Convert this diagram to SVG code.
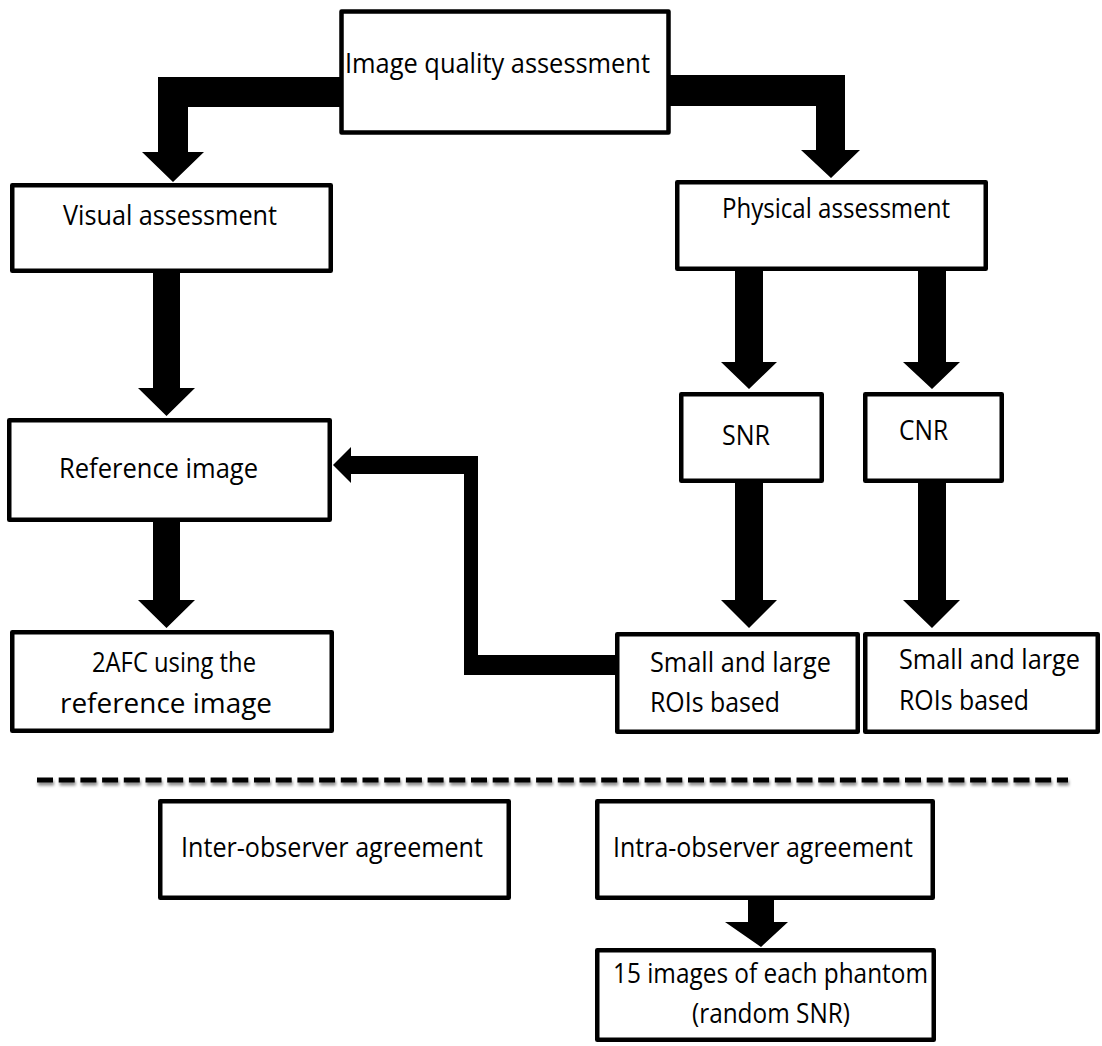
<svg xmlns="http://www.w3.org/2000/svg" width="1102" height="1046" viewBox="0 0 1102 1046">
  <defs>
    <style>
      .box { fill: #ffffff; stroke: #000000; stroke-width: 4.5; stroke-linejoin: round; }
      .lbl { font-family: "Open Sans", "Liberation Sans", sans-serif; font-size: 28px; fill: #000000; }
      .arrow { fill: #000000; stroke: none; }
      .sep { fill: none; stroke: #000000; stroke-width: 5; stroke-dasharray: 16 5.7; }
    </style>
    <filter id="shadow" filterUnits="userSpaceOnUse" x="20" y="760" width="1070" height="40">
      <feDropShadow dx="1" dy="3" stdDeviation="1.5" flood-color="#000000" flood-opacity="0.45"/>
    </filter>
  </defs>
  <rect width="1102" height="1046" fill="#ffffff"/>

  <!-- connectors: block arrows -->
  <g id="connectors">
    <path class="arrow" d="M340 77 H158 V152 H142 L173 182 L204 152 H188 V107 H340 Z"/>
    <path class="arrow" d="M670 75 H845 V150 H860 L831 178 L801 150 H816 V106 H670 Z"/>
    <path class="arrow" d="M153 273 H180 V388 H195 L166.5 416 L138 388 H153 Z"/>
    <path class="arrow" d="M153 522 H180 V600 H195 L166.5 628 L138 600 H153 Z"/>
    <path class="arrow" d="M735 271 H763 V362 H777 L749 389 L721 362 H735 Z"/>
    <path class="arrow" d="M918 271 H946 V362 H960 L932 389 L903 362 H918 Z"/>
    <path class="arrow" d="M735 483 H763 V600 H777 L749 628 L721 600 H735 Z"/>
    <path class="arrow" d="M918 483 H946 V600 H960 L932 628 L903 600 H918 Z"/>
    <path class="arrow" d="M351 456 H478 V655 H615 V675 H464 V474 H351 V483 L333 465 L351 447 Z"/>
    <path class="arrow" d="M748 900 H774 V922 H788 L761 947 L725 922 H748 Z"/>
  </g>

  <!-- separator between the two sections -->
  <path class="sep" d="M37 780 H1068" filter="url(#shadow)"/>

  <g id="image-quality">
    <rect class="box" x="341.5" y="11.5" width="327" height="121"/>
    <text class="lbl" x="345" y="73" textLength="305" lengthAdjust="spacingAndGlyphs">Image quality assessment</text>
  </g>
  <g id="visual">
    <rect class="box" x="12.25" y="185.25" width="318.5" height="85.5"/>
    <text class="lbl" x="63" y="225" textLength="214" lengthAdjust="spacingAndGlyphs">Visual assessment</text>
  </g>
  <g id="physical">
    <rect class="box" x="677.25" y="182.25" width="308.5" height="86.5"/>
    <text class="lbl" x="722" y="218" textLength="228" lengthAdjust="spacingAndGlyphs">Physical assessment</text>
  </g>
  <g id="reference">
    <rect class="box" x="9.25" y="420.25" width="320.5" height="99.5"/>
    <text class="lbl" x="59" y="478" textLength="199" lengthAdjust="spacingAndGlyphs">Reference image</text>
  </g>
  <g id="snr">
    <rect class="box" x="681.25" y="394.25" width="140.5" height="86.5"/>
    <text class="lbl" x="722" y="445" textLength="48" lengthAdjust="spacingAndGlyphs">SNR</text>
  </g>
  <g id="cnr">
    <rect class="box" x="865.25" y="394.25" width="136.5" height="86.5"/>
    <text class="lbl" x="899" y="440" textLength="49" lengthAdjust="spacingAndGlyphs">CNR</text>
  </g>
  <g id="afc">
    <rect class="box" x="12.25" y="632.25" width="319.5" height="98.5"/>
    <text class="lbl" x="92" y="672" font-size="27" textLength="164" lengthAdjust="spacingAndGlyphs">2AFC using the</text>
    <text class="lbl" x="60" y="713" font-size="29" textLength="212" lengthAdjust="spacingAndGlyphs">reference image</text>
  </g>
  <g id="roi-snr">
    <rect class="box" x="617.25" y="634.25" width="240.5" height="97.5"/>
    <text class="lbl" x="650" y="672" textLength="181" lengthAdjust="spacingAndGlyphs">Small and large</text>
    <text class="lbl" x="650" y="712" textLength="130" lengthAdjust="spacingAndGlyphs">ROIs based</text>
  </g>
  <g id="roi-cnr">
    <rect class="box" x="865.25" y="634.25" width="232.5" height="97.5"/>
    <text class="lbl" x="899" y="669" textLength="181" lengthAdjust="spacingAndGlyphs">Small and large</text>
    <text class="lbl" x="899" y="710" textLength="130" lengthAdjust="spacingAndGlyphs">ROIs based</text>
  </g>
  <g id="inter-observer">
    <rect class="box" x="160.25" y="801.25" width="348.5" height="96.5"/>
    <text class="lbl" x="181" y="857" textLength="302" lengthAdjust="spacingAndGlyphs">Inter-observer agreement</text>
  </g>
  <g id="intra-observer">
    <rect class="box" x="597.25" y="801.25" width="335.5" height="96.5"/>
    <text class="lbl" x="613" y="857" textLength="300" lengthAdjust="spacingAndGlyphs">Intra-observer agreement</text>
  </g>
  <g id="phantom-images">
    <rect class="box" x="597.25" y="950.25" width="336.5" height="89.5"/>
    <text class="lbl" x="613" y="983" textLength="315" lengthAdjust="spacingAndGlyphs">15 images of each phantom</text>
    <text class="lbl" x="692" y="1023" textLength="158" lengthAdjust="spacingAndGlyphs">(random SNR)</text>
  </g>
</svg>
